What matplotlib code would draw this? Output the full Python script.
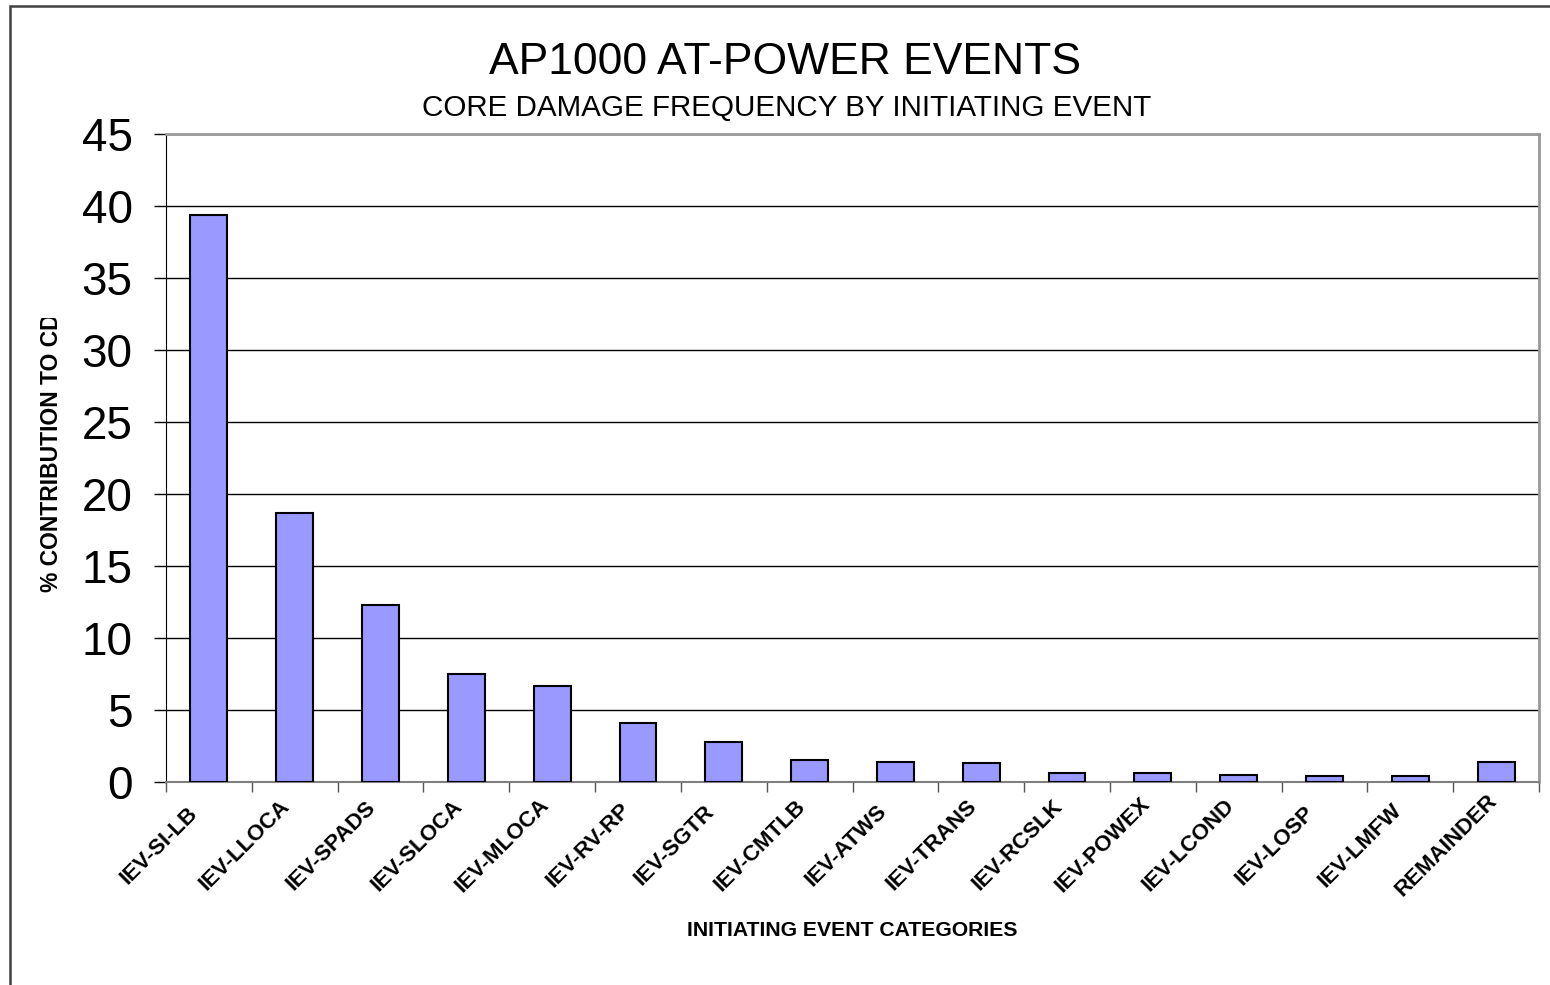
import numpy as np
import matplotlib
matplotlib.use("Agg")
import matplotlib.pyplot as plt
from matplotlib.patches import Rectangle
from matplotlib.transforms import Bbox

plt.rcParams['font.family'] = ['Liberation Sans', 'DejaVu Sans']

events = ['IEV-SI-LB', 'IEV-LLOCA', 'IEV-SPADS', 'IEV-SLOCA', 'IEV-MLOCA',
          'IEV-RV-RP', 'IEV-SGTR', 'IEV-CMTLB', 'IEV-ATWS', 'IEV-TRANS',
          'IEV-RCSLK', 'IEV-POWEX', 'IEV-LCOND', 'IEV-LOSP', 'IEV-LMFW',
          'REMAINDER']
contribution = [39.4, 18.7, 12.3, 7.5, 6.7, 4.1, 2.8, 1.5, 1.4, 1.3,
                0.6, 0.6, 0.5, 0.4, 0.4, 1.4]
yticks = [0, 5, 10, 15, 20, 25, 30, 35, 40, 45]

W, H = 1550, 985
fig = plt.figure(figsize=(W / 100, H / 100), dpi=100)

# outer frame of the chart object
fig.patches.append(Rectangle((10 / W, -0.1), 1.2, 1 - 6 / H + 0.1,
                             transform=fig.transFigure, fill=False,
                             edgecolor='#404040', linewidth=1.8))

ax = fig.add_axes([166 / W, 1 - 782 / H, (1539 - 166) / W, (782 - 134) / H])

x = np.arange(len(events))
ax.bar(x, contribution, width=0.43, color='#9999FF', edgecolor='black',
       linewidth=1.5, zorder=3)

ax.set_xlim(-0.5, len(events) - 0.5)
ax.set_ylim(0, 45)
ax.set_yticks(yticks)
ax.tick_params(axis='y', labelsize=33, length=9, width=1, direction='out', pad=15)
ax.yaxis.grid(True, color='black', linewidth=1)
ax.set_axisbelow(True)

# category boundary ticks below the axis
ax.set_xticks(np.arange(len(events) + 1) - 0.5)
ax.set_xticklabels([])
ax.tick_params(axis='x', length=7, width=1, color='#555555', direction='out')
for i, name in enumerate(events):
    ax.text(i - 0.58, -4.4, name, rotation=45, ha='center', va='center',
            rotation_mode='anchor', fontsize=16, fontweight='bold')

ax.spines['left'].set_color('black')
ax.spines['bottom'].set_color('#808080')
ax.spines['bottom'].set_linewidth(1.5)
ax.spines['top'].set_color('#999999')
ax.spines['top'].set_linewidth(2)
ax.spines['right'].set_color('#999999')
ax.spines['right'].set_linewidth(2)

fig.text(785 / W, 1 - 62 / H, 'AP1000 AT-POWER EVENTS', ha='center',
         va='center', fontsize=32)
fig.text(787 / W, 1 - 108 / H, 'CORE DAMAGE FREQUENCY BY INITIATING EVENT',
         ha='center', va='center', fontsize=21.3)
fig.text(852 / W, 1 - 930 / H, 'INITIATING EVENT CATEGORIES', ha='center',
         va='center', fontsize=15.2, fontweight='bold')

ylab = fig.text(52 / W, 1 - 592 / H, '% CONTRIBUTION TO CDF', rotation=90,
                ha='center', va='bottom', fontsize=16.5, fontweight='bold')
ylab.set_clip_box(Bbox.from_extents(0, 0, 200, H - 318))
ylab.set_clip_on(True)

fig.savefig('out.png', dpi=100)
